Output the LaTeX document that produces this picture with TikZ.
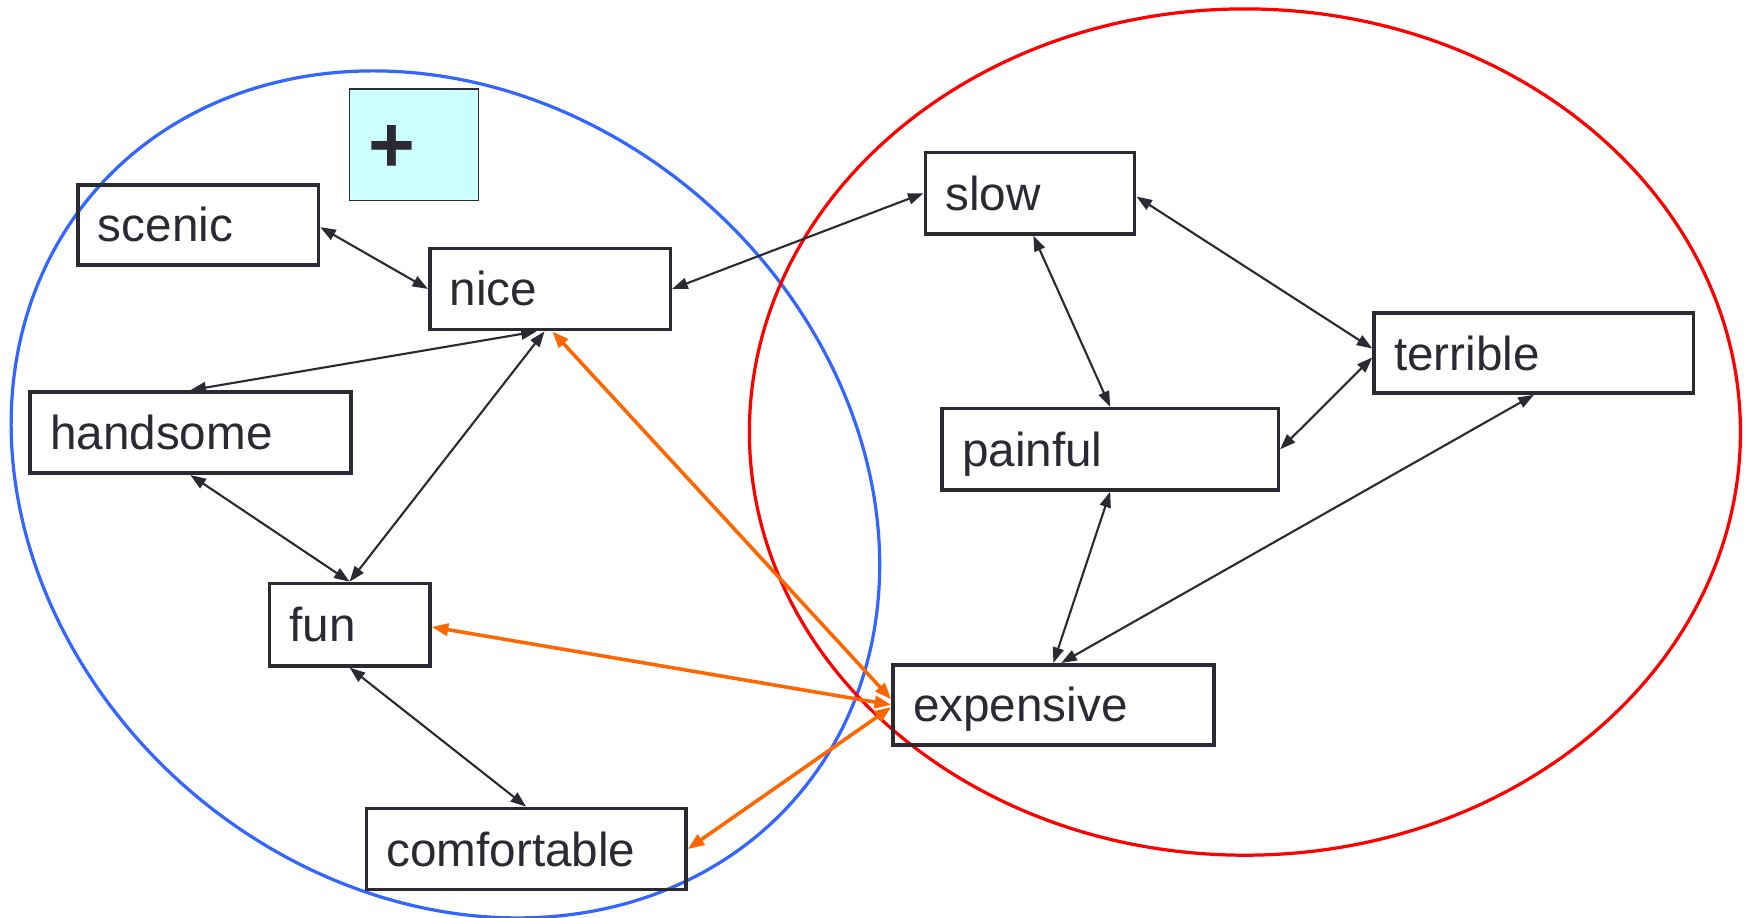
\documentclass[tikz,border=0pt]{standalone}
\usepackage{fontspec}
\setmainfont{Liberation Sans}
\usetikzlibrary{arrows.meta}
\definecolor{ink}{HTML}{2B2A33}
\definecolor{blueell}{HTML}{3366FF}
\definecolor{redell}{HTML}{FF0000}
\definecolor{orng}{HTML}{FF6600}
\definecolor{cyanfill}{HTML}{CCFFFF}
\tikzset{
  wordbox/.style={draw=ink, line width=3.2pt, rectangle, inner xsep=18pt, inner ysep=0pt,
    align=left, text=ink, font=\fontsize{42.8}{50}\selectfont, text height=30.6pt, text depth=0pt},
  blk/.style={draw=ink, line width=1.9pt, {Triangle[length=14pt,width=10pt]}-{Triangle[length=14pt,width=10pt]}},
  org/.style={draw=orng, line width=3.2pt, {Triangle[length=15pt,width=11pt]}-{Triangle[length=15pt,width=11pt]}}
}
\newcommand\wbox[6]{%
  \pgfmathsetmacro\wboxw{#4-#2}%
  \pgfmathsetmacro\wboxh{#5-#3}%
  \pgfmathsetmacro\wboxt{#4-#2-36}%
  \node[wordbox, minimum width=\wboxw pt, minimum height=\wboxh pt, text width=\wboxt pt] (#1) at ({(#2+#4)/2},{(#3+#5)/2}) {#6};}
\begin{document}
\begin{tikzpicture}[x=1pt,y=-1pt]
\useasboundingbox (0,0) rectangle (1568,824.4);
% ellipses
\draw[blueell, line width=2.9pt] plot[domain=0:360, samples=241, smooth, variable=\t]
  ({400+318*cos(\t)-225.8*sin(\t)},{444+268.7*cos(\t)+269.2*sin(\t)});
\draw[redell, line width=2.9pt] (1118,388) ellipse [x radius=445, y radius=380];
% plus box
\node[draw=ink, line width=1.2pt, fill=cyanfill, minimum width=116pt, minimum height=100pt,
  inner xsep=17pt, inner ysep=0pt, text width=82pt, align=left, text=ink,
  text height=50pt, text depth=0pt,
  font=\fontsize{72}{72}\selectfont\bfseries] (plus) at (372,130) {+};
% word boxes
\wbox{scenic}{70}{166}{286}{238}{scenic}
\wbox{nice}{386}{223}{602}{296}{nice}
\wbox{handsome}{27}{352}{315}{425}{handsome}
\wbox{fun}{242}{524}{386}{598}{fun}
\wbox{comfortable}{329}{726}{616}{799}{comfortable}
\wbox{slow}{831}{137}{1019}{210}{slow}
\wbox{terrible}{1234}{281}{1521}{353}{terrible}
\wbox{painful}{846}{367}{1148}{440}{painful}
\wbox{expensive}{802}{597}{1090}{669}{expensive}
% black connectors
\draw[blk] ([yshift=-2pt]scenic.east) -- (nice.west);
\draw[blk] (nice.east) -- (slow.west);
\draw[blk] ([xshift=-12pt]nice.south) -- (handsome.north);
\draw[blk] ([xshift=-5pt]nice.south) -- (fun.north);
\draw[blk] (handsome.south) -- (fun.north);
\draw[blk] (fun.south) -- (comfortable.north);
\draw[blk] ([yshift=-3pt]slow.east) -- ([yshift=4pt]terrible.west);
\draw[blk] ([xshift=3pt]slow.south) -- (painful.north);
\draw[blk] ([yshift=-4pt]terrible.west) -- (painful.east);
\draw[blk] (painful.south) -- (expensive.north);
\draw[blk] (terrible.south) -- ([xshift=7pt]expensive.north);
% orange connectors
\draw[org] ([xshift=2pt]nice.south) -- ([yshift=5pt]expensive.west);
\draw[org] ([yshift=-2pt]fun.east) -- (expensive.west);
\draw[org] ([yshift=-2pt]expensive.west) -- (comfortable.east);
\end{tikzpicture}
\end{document}
